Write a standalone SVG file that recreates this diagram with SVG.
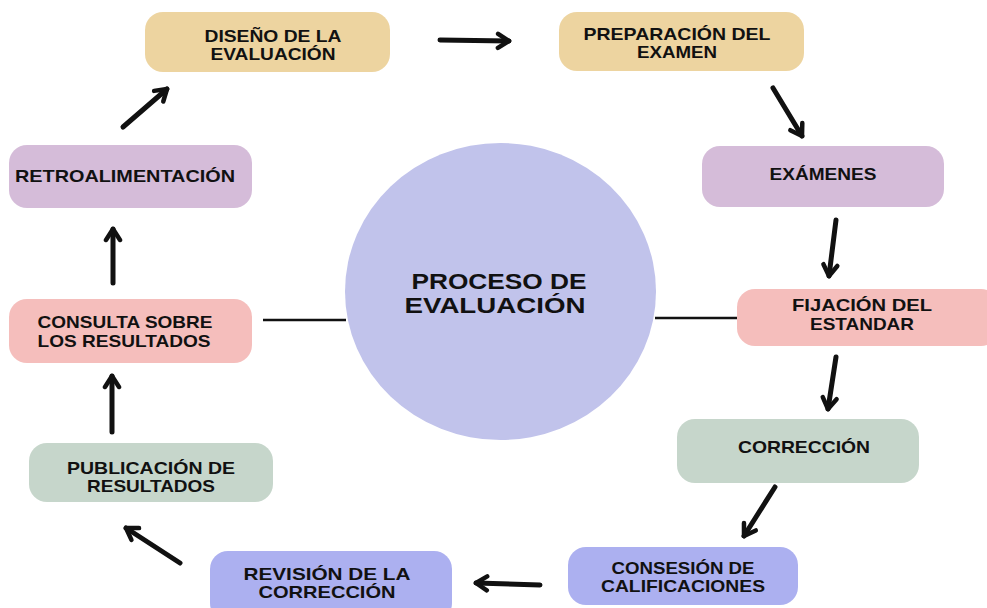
<svg xmlns="http://www.w3.org/2000/svg" width="987" height="608" viewBox="0 0 987 608">
<style>
.t{font-family:"Liberation Sans",Arial,sans-serif;font-weight:bold;font-size:17px;fill:#111;text-anchor:middle}
.c{font-size:22px}
.tan{fill:#EDD4A0}.pur{fill:#D5BCD9}.pnk{fill:#F5BEBC}.grn{fill:#C6D6CB}.blu{fill:#ACB0F0}
.arr{stroke:#111;stroke-width:5;stroke-linecap:round;fill:none;marker-end:url(#ah)}
.ln{stroke:#111;stroke-width:2.5}
</style>
<defs>
<marker id="ah" markerUnits="userSpaceOnUse" markerWidth="20" markerHeight="20" viewBox="0 0 20 20" refX="15" refY="10" orient="auto">
<path d="M4,3 L15,10 L4,17" stroke="#111" stroke-width="4.5" fill="none" stroke-linecap="round" stroke-linejoin="round"/>
</marker>
</defs>
<rect width="987" height="608" fill="#fff"/>
<g id="connectors">
<line class="ln" x1="263" y1="320" x2="346" y2="320"/>
<line class="ln" x1="655" y1="318" x2="738" y2="318"/>
<path class="arr" d="M123,127 L167,89"/>
<path class="arr" d="M440,40 L509,41"/>
<path class="arr" d="M773,88 L802,136"/>
<path class="arr" d="M836,220 L829,276"/>
<path class="arr" d="M836,357 L828,409"/>
<path class="arr" d="M775,487 L744,536"/>
<path class="arr" d="M540,585 L476,583"/>
<path class="arr" d="M180,563 L126,528"/>
<path class="arr" d="M112,432 L112,376"/>
<path class="arr" d="M113,283 L113,229"/>
</g>
<g id="center">
<ellipse cx="500.5" cy="291.5" rx="155.5" ry="148.5" fill="#C1C3EB"/>
<text class="t c" x="499" y="289" textLength="175" lengthAdjust="spacingAndGlyphs">PROCESO DE</text>
<text class="t c" x="495" y="313" textLength="181" lengthAdjust="spacingAndGlyphs">EVALUACIÓN</text>
</g>
<g id="n1">
<rect class="tan" x="145" y="12" width="245" height="60" rx="18"/>
<text class="t" x="273" y="42" textLength="137" lengthAdjust="spacingAndGlyphs">DISEÑO DE LA</text>
<text class="t" x="273" y="60" textLength="125" lengthAdjust="spacingAndGlyphs">EVALUACIÓN</text>
</g>
<g id="n2">
<rect class="tan" x="559" y="12" width="245" height="59" rx="18"/>
<text class="t" x="677" y="40" textLength="187" lengthAdjust="spacingAndGlyphs">PREPARACIÓN DEL</text>
<text class="t" x="677" y="58" textLength="80" lengthAdjust="spacingAndGlyphs">EXAMEN</text>
</g>
<g id="n3">
<rect class="pur" x="702" y="146" width="242" height="61" rx="18"/>
<text class="t" x="823" y="180" textLength="107" lengthAdjust="spacingAndGlyphs">EXÁMENES</text>
</g>
<g id="n4">
<rect class="pnk" x="737" y="289" width="262" height="57" rx="18"/>
<text class="t" x="862" y="311" textLength="140" lengthAdjust="spacingAndGlyphs">FIJACIÓN DEL</text>
<text class="t" x="862" y="330" textLength="104" lengthAdjust="spacingAndGlyphs">ESTANDAR</text>
</g>
<g id="n5">
<rect class="grn" x="677" y="419" width="242" height="64" rx="18"/>
<text class="t" x="804" y="453" textLength="132" lengthAdjust="spacingAndGlyphs">CORRECCIÓN</text>
</g>
<g id="n6">
<rect class="blu" x="568" y="547" width="230" height="58" rx="18"/>
<text class="t" x="683" y="574" textLength="143" lengthAdjust="spacingAndGlyphs">CONSESIÓN DE</text>
<text class="t" x="683" y="592" textLength="164" lengthAdjust="spacingAndGlyphs">CALIFICACIONES</text>
</g>
<g id="n7">
<rect class="blu" x="210" y="551" width="242" height="70" rx="18"/>
<text class="t" x="327" y="580" textLength="167" lengthAdjust="spacingAndGlyphs">REVISIÓN DE LA</text>
<text class="t" x="327" y="598" textLength="137" lengthAdjust="spacingAndGlyphs">CORRECCIÓN</text>
</g>
<g id="n8">
<rect class="grn" x="29" y="443" width="244" height="59" rx="18"/>
<text class="t" x="151" y="474" textLength="168" lengthAdjust="spacingAndGlyphs">PUBLICACIÓN DE</text>
<text class="t" x="151" y="492" textLength="128" lengthAdjust="spacingAndGlyphs">RESULTADOS</text>
</g>
<g id="n9">
<rect class="pnk" x="9" y="299" width="243" height="64" rx="18"/>
<text class="t" x="125" y="328" textLength="175" lengthAdjust="spacingAndGlyphs">CONSULTA SOBRE</text>
<text class="t" x="124" y="347" textLength="173" lengthAdjust="spacingAndGlyphs">LOS RESULTADOS</text>
</g>
<g id="n10">
<rect class="pur" x="9" y="145" width="243" height="63" rx="18"/>
<text class="t" x="125" y="182" textLength="220" lengthAdjust="spacingAndGlyphs">RETROALIMENTACIÓN</text>
</g>
</svg>
